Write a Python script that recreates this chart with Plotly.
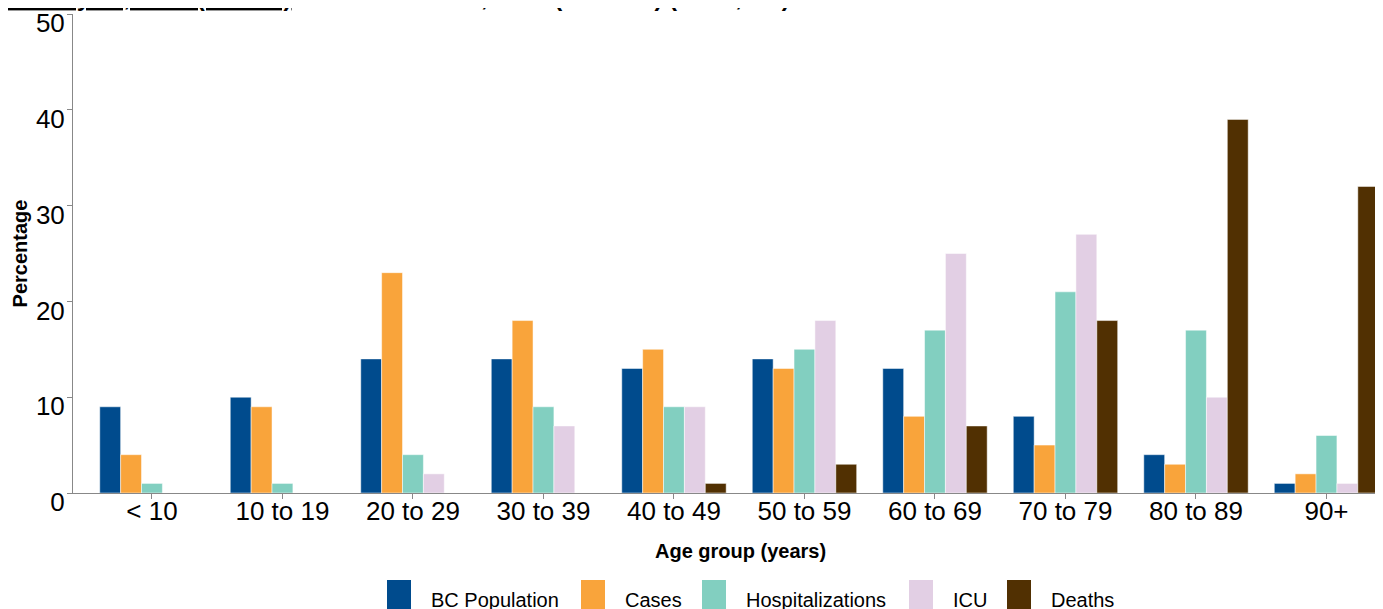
import plotly.graph_objects as go

age_groups = ["< 10", "10 to 19", "20 to 29", "30 to 39", "40 to 49",
              "50 to 59", "60 to 69", "70 to 79", "80 to 89", "90+"]
bc_population = [9, 10, 14, 14, 13, 14, 13, 8, 4, 1]
cases = [4, 9, 23, 18, 15, 13, 8, 5, 3, 2]
hospitalizations = [1, 1, 4, 9, 9, 15, 17, 21, 17, 6]
icu = [0, 0, 2, 7, 9, 18, 25, 27, 10, 1]
deaths = [0, 0, 0, 0, 1, 3, 7, 18, 39, 32]
y_ticks = [0, 10, 20, 30, 40, 50]

series_names = ["BC Population", "Cases", "Hospitalizations", "ICU", "Deaths"]
series_values = [bc_population, cases, hospitalizations, icu, deaths]
series_colors = ["#004B8D", "#F9A43B", "#82CFC0", "#E2CFE4", "#513002"]

# page has an 8px body margin, so figure coords = page coords - 8
OFF = 8
W, H = 1383, 609
L, R, T, B = 65, 8, 6, 124
pw = W - L - R
ph = H - T - B


def px_x(page_x):
    return (page_x - OFF - L) / pw


def px_y(page_y):
    return (T + ph - (page_y - OFF)) / ph


fig = go.Figure()
for name, vals, color in zip(series_names, series_values, series_colors):
    fig.add_trace(go.Bar(
        name=name, x=age_groups, y=vals,
        marker=dict(color=color, line=dict(color="white", width=0.5)),
    ))

# legend drawn as tall swatches + labels (layout positions)
legend_marker_px = [387, 581, 702, 909, 1007]
shapes = []
annotations = []
for name, color, mx in zip(series_names, series_colors, legend_marker_px):
    shapes.append(dict(
        type="rect", xref="paper", yref="paper",
        x0=px_x(mx), x1=px_x(mx + 24), y0=px_y(620), y1=px_y(580),
        fillcolor=color, line=dict(width=0),
    ))
    annotations.append(dict(
        text=name, xref="paper", yref="paper",
        x=px_x(mx + 42), xanchor="left", y=px_y(600), yanchor="middle",
        showarrow=False, font=dict(size=20, color="black"),
    ))

# x-axis title
annotations.append(dict(
    text="<b>Age group (years)</b>", xref="paper", yref="paper",
    x=px_x(740), xanchor="center", y=px_y(551), yanchor="middle",
    showarrow=False, font=dict(size=20, color="black"),
))

# chart title (cut off at the top edge in the reference)
annotations.append(dict(
    text="<b><u>January 15, 2020 (week 3)</u>  –  December 26, 2020 (week 51) (N=51,832)</b>",
    xref="paper", yref="paper", x=px_x(-4), xanchor="left",
    y=px_y(13), yanchor="bottom", showarrow=False,
    font=dict(size=24, color="black"),
))

fig.update_layout(
    width=W, height=H,
    barmode="group", bargap=0.2, bargroupgap=0,
    margin=dict(l=L, r=R, t=T, b=B, autoexpand=False),
    plot_bgcolor="white", paper_bgcolor="white",
    font=dict(family="Liberation Sans, Arial, sans-serif", color="black"),
    showlegend=False,
    xaxis=dict(
        range=[-0.605, 9.433], showline=True, linecolor="#888888", linewidth=1,
        ticks="outside", ticklen=5, tickcolor="#888888", automargin=False,
        tickfont=dict(size=26), showgrid=False, ticklabelstandoff=-10,
    ),
    yaxis=dict(
        range=[0, 50], tickvals=y_ticks, showline=True, linecolor="#888888", linewidth=1,
        ticks="outside", ticklen=5, tickcolor="#888888", automargin=False,
        tickfont=dict(size=26), showgrid=False, zeroline=False,
        ticklabelshift=9, ticklabelstandoff=-3,
        title=dict(text="<b>Percentage</b>", font=dict(size=20), standoff=2),
    ),
    shapes=shapes,
    annotations=annotations,
)

fig.write_html("out.html")
